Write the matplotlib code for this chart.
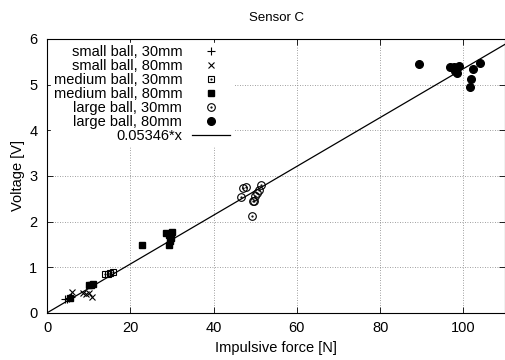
import numpy as np
import matplotlib
matplotlib.use("Agg")
import matplotlib.pyplot as plt
from matplotlib.legend_handler import HandlerTuple

plt.rcParams['font.family'] = ['Liberation Sans', 'DejaVu Sans']
plt.rcParams['font.size'] = 10.5

# small ball, 30mm
sb30_f = [4.2, 4.8, 5.3, 5.8]
sb30_v = [0.30, 0.31, 0.32, 0.34]
# small ball, 80mm
sb80_f = [6.0, 8.6, 9.3, 10.0, 10.7, 10.2]
sb80_v = [0.46, 0.44, 0.41, 0.44, 0.35, 0.60]
# medium ball, 30mm
mb30_f = [14.0, 14.6, 15.2, 15.8]
mb30_v = [0.84, 0.86, 0.88, 0.90]
# medium ball, 80mm
mb80_f = [5.6, 10.0, 10.5, 11.0, 22.9, 28.6, 29.4, 29.8, 30.1, 29.2, 29.5]
mb80_v = [0.32, 0.62, 0.60, 0.64, 1.49, 1.74, 1.49, 1.64, 1.77, 1.70, 1.58]
# large ball, 30mm
lb30_f = [46.5, 47.0, 47.7, 49.2, 49.5, 49.6, 50.0, 50.4, 51.0, 51.5]
lb30_v = [2.53, 2.73, 2.76, 2.12, 2.44, 2.46, 2.56, 2.62, 2.69, 2.80]
# large ball, 80mm
lb80_f = [89.4, 96.8, 97.8, 98.4, 99.0, 102.4, 101.9, 101.6, 103.9, 98.0]
lb80_v = [5.44, 5.38, 5.39, 5.25, 5.40, 5.33, 5.12, 4.95, 5.48, 5.30]

slope = 0.05346
fit_x = np.array([0, 110])

fig = plt.figure(figsize=(5.06, 3.6), dpi=100)
ax = fig.add_axes([0.093, 0.131, 0.905, 0.761])

h1, = ax.plot(sb30_f, sb30_v, '+', color='black', ms=6, mew=0.8, ls='none')
h2, = ax.plot(sb80_f, sb80_v, 'x', color='black', ms=5, mew=0.8, ls='none')
h3, = ax.plot(mb30_f, mb30_v, 's', mfc='none', mec='black', ms=5, mew=0.8, ls='none')
h3d, = ax.plot(mb30_f, mb30_v, '.', color='black', ms=1.2, ls='none')
h4, = ax.plot(mb80_f, mb80_v, 's', color='black', ms=5, ls='none')
h5, = ax.plot(lb30_f, lb30_v, 'o', mfc='none', mec='black', ms=5.5, mew=0.8, ls='none')
h5d, = ax.plot(lb30_f, lb30_v, '.', color='black', ms=1.2, ls='none')
h6, = ax.plot(lb80_f, lb80_v, 'o', color='black', ms=5.5, ls='none')
h7, = ax.plot(fit_x, slope * fit_x, '-', color='black', lw=0.9)

ax.set_xlim(0, 110)
ax.set_ylim(0, 6)
ax.set_xticks(range(0, 101, 20))
ax.set_yticks(range(0, 7))
ax.tick_params(axis='both', direction='in', top=True, right=True, length=4, width=0.6)
ax.tick_params(axis='x', pad=6)
ax.tick_params(axis='y', pad=7)
ax.grid(True, linestyle=(0, (1, 2)), color='gray', linewidth=0.6)
ax.set_axisbelow(True)
for s in ax.spines.values():
    s.set_linewidth(0.8)

ax.set_title("Sensor C", fontsize=9.5, pad=13)
ax.set_xlabel("Impulsive force [N]", labelpad=4)
ax.set_ylabel("Voltage [V]", labelpad=3)

leg = ax.legend([h1, h2, (h3, h3d), h4, (h5, h5d), h6, h7],
                ["small ball, 30mm", "small ball, 80mm", "medium ball, 30mm",
                 "medium ball, 80mm", "large ball, 30mm", "large ball, 80mm",
                 "0.05346*x"],
                handler_map={tuple: HandlerTuple(ndivide=1, pad=0)},
                loc='upper left', bbox_to_anchor=(0.0, 1.0), markerfirst=False,
                frameon=True, fancybox=False, edgecolor='white', framealpha=1,
                handlelength=2.6, handletextpad=0.7, labelspacing=0.0,
                borderpad=0.2, borderaxespad=0.25, fontsize=10.5)
vp = leg._legend_box._children[-1]._children[0]
vp.align = "right"

fig.savefig("out.png", dpi=100)
